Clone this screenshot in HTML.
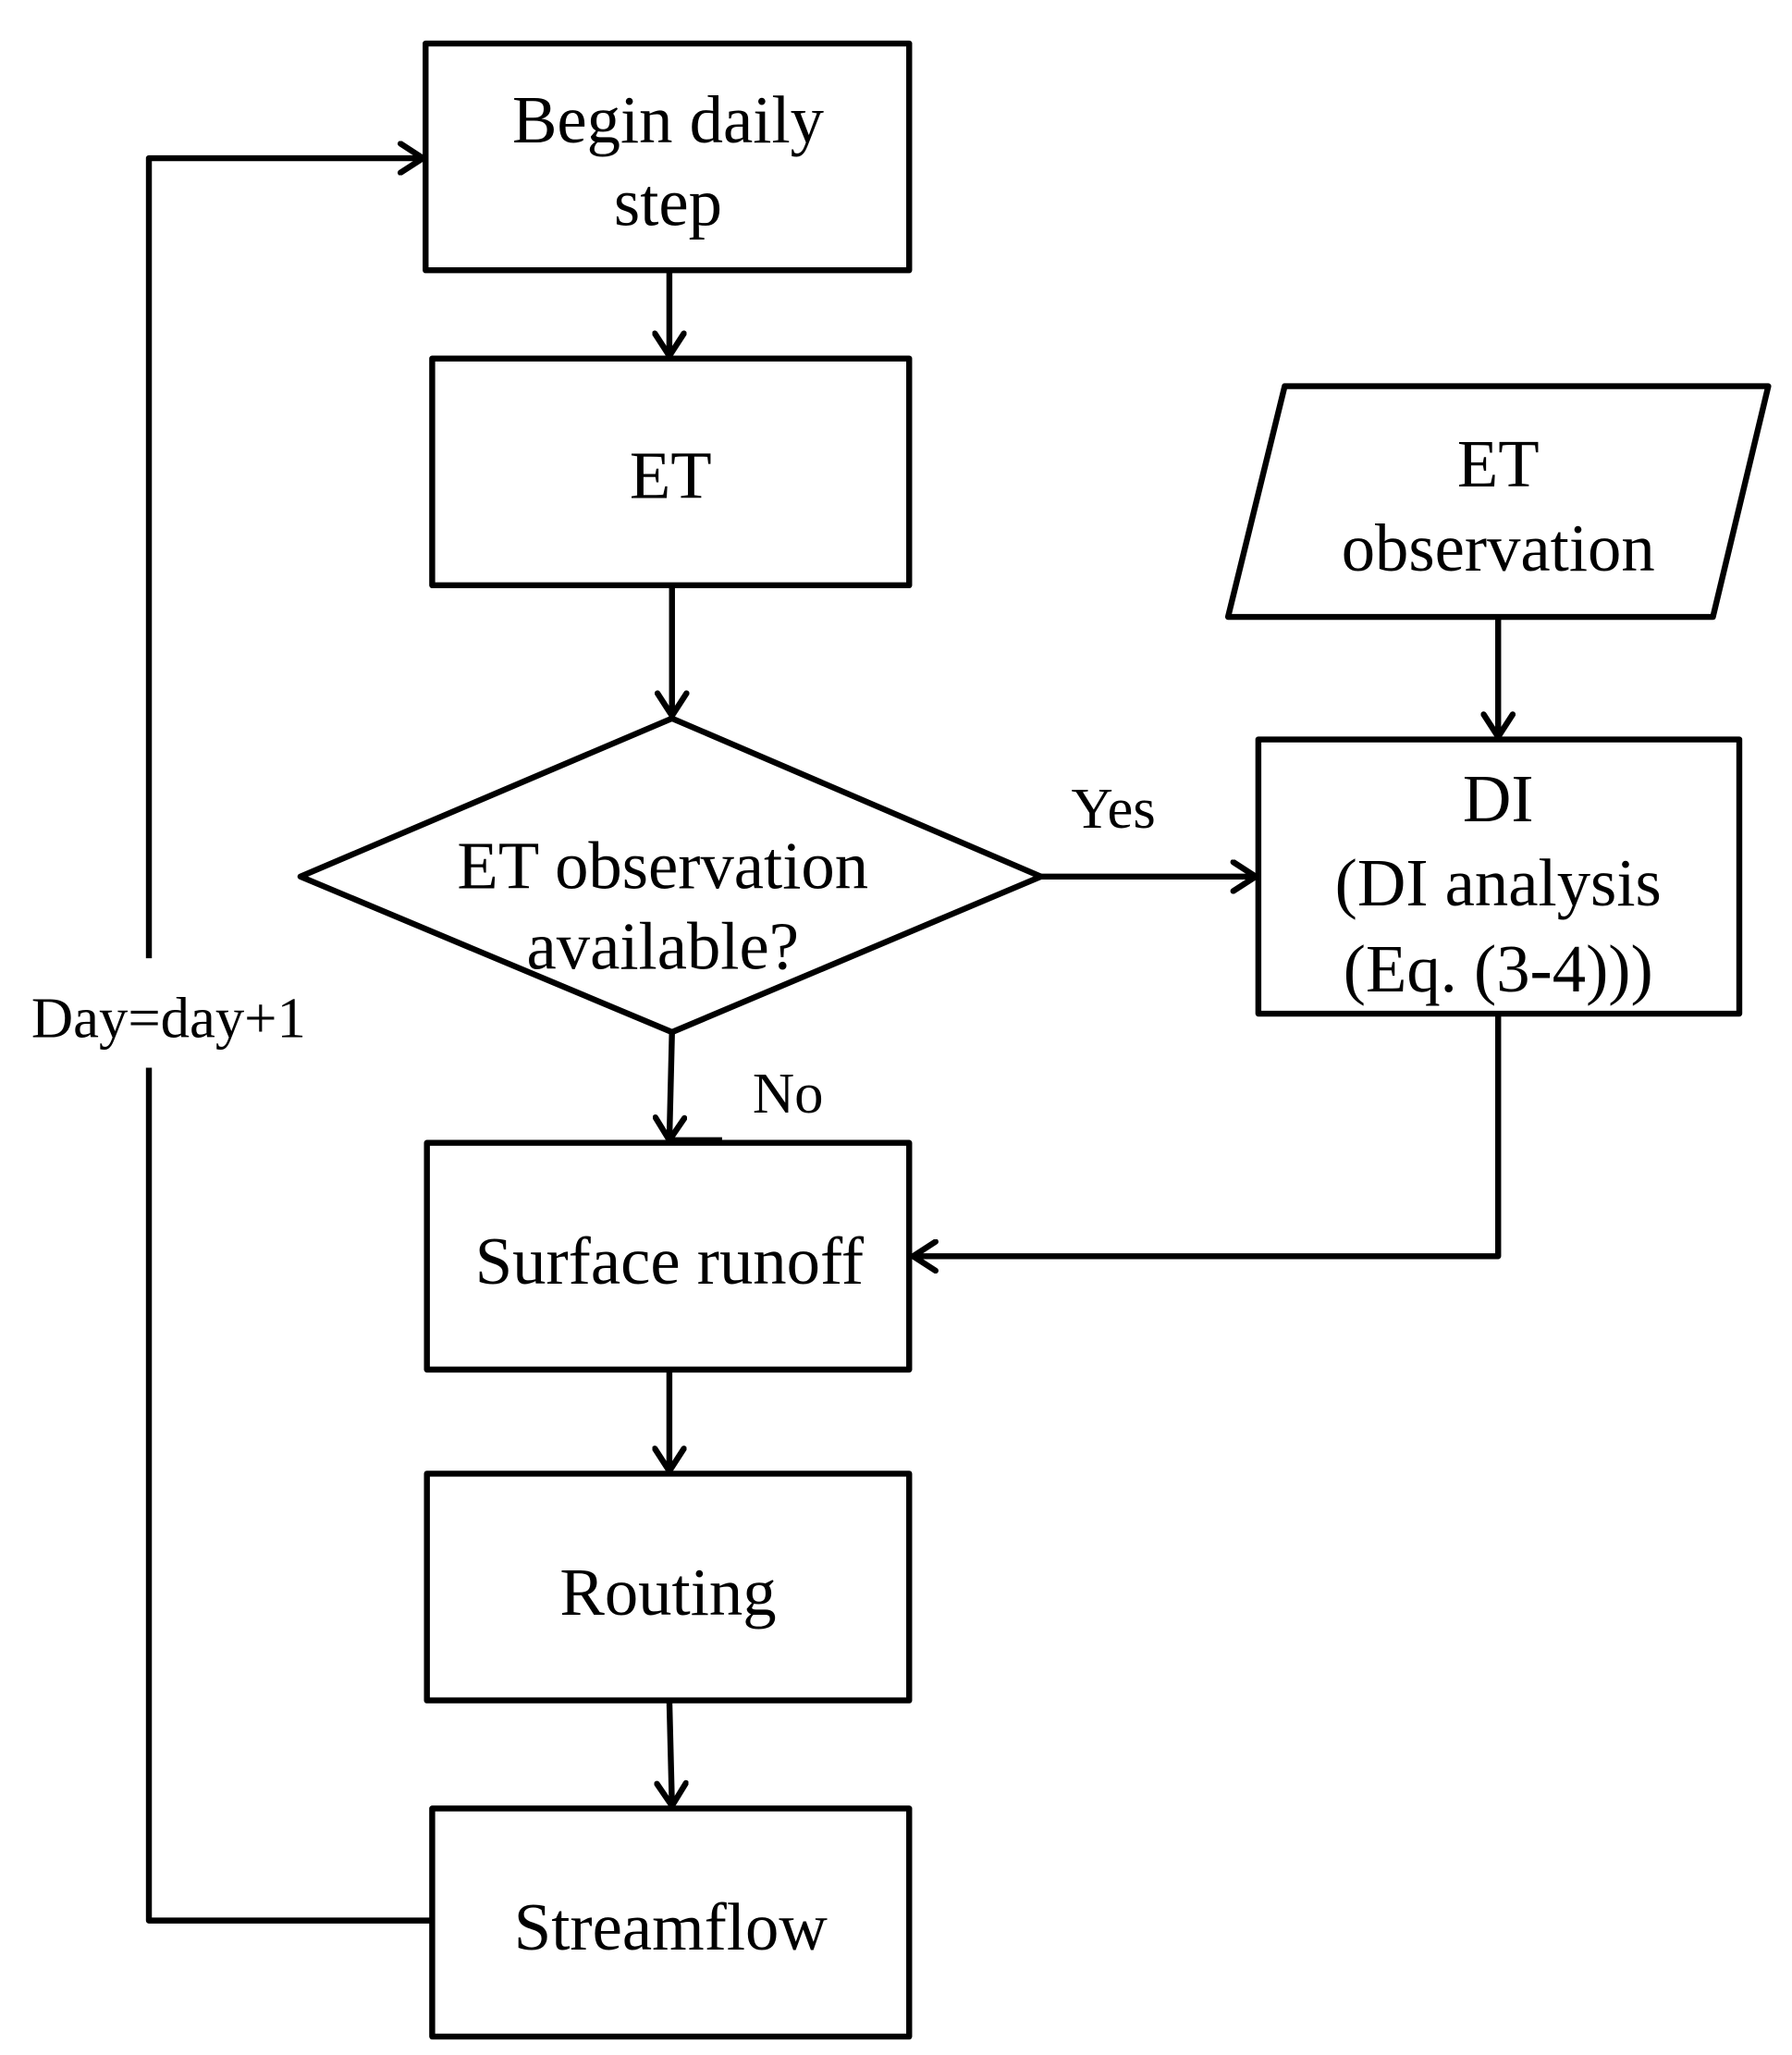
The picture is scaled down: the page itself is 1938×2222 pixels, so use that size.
<!DOCTYPE html>
<html><head><meta charset="utf-8"><style>html,body{margin:0;padding:0;background:#fff}svg{display:block}</style></head>
<body>
<svg width="1938" height="2222" viewBox="0 0 1360 1559" preserveAspectRatio="none" xmlns="http://www.w3.org/2000/svg">
<defs><marker id="a" markerWidth="24" markerHeight="26" refX="20" refY="13" orient="auto" markerUnits="userSpaceOnUse"><path d="M3,2 L20,13 L3,24" fill="none" stroke="#000" stroke-width="4.5" stroke-linecap="round" stroke-linejoin="round"/></marker></defs>
<g fill="none" stroke="#000" stroke-width="4.5" stroke-linejoin="round">
<rect x="323" y="33" width="367" height="172"/>
<rect x="328" y="272" width="362" height="172"/>
<polygon points="510,545 790,665 510,783 228,665"/>
<polygon points="975,293 1342,293 1300,468 932,468"/>
<rect x="955" y="561" width="365" height="208"/>
<rect x="324" y="867" width="366" height="172"/>
<rect x="324" y="1118" width="366" height="172"/>
<rect x="328" y="1372" width="362" height="173"/>
<line x1="508" y1="205" x2="508" y2="270" marker-end="url(#a)"/>
<line x1="510" y1="444" x2="510" y2="543" marker-end="url(#a)"/>
<line x1="510" y1="783" x2="508" y2="865" marker-end="url(#a)"/>
<line x1="508" y1="865" x2="548" y2="865"/>
<line x1="790" y1="665" x2="953" y2="665" marker-end="url(#a)"/>
<line x1="1137" y1="468" x2="1137" y2="559" marker-end="url(#a)"/>
<polyline points="1137,769 1137,953 693,953" marker-end="url(#a)"/>
<line x1="508" y1="1039" x2="508" y2="1116" marker-end="url(#a)"/>
<line x1="508" y1="1290" x2="510" y2="1370" marker-end="url(#a)"/>
<polyline points="328,1457 113,1457 113,810"/>
<polyline points="113,727 113,120 321,120" marker-end="url(#a)"/>
</g>
<g font-family="Liberation Serif, serif" font-size="51" text-anchor="middle" fill="#000">
<text x="507" y="108">Begin daily</text>
<text x="507" y="171">step</text>
<text x="509" y="378">ET</text>
<text x="503" y="674">ET observation</text>
<text x="503" y="735">available?</text>
<text x="1137" y="369">ET</text>
<text x="1137" y="433">observation</text>
<text x="1137" y="623">DI</text>
<text x="1137" y="687">(DI analysis</text>
<text x="1137" y="752">(Eq. (3-4)))</text>
<text x="508" y="974">Surface runoff</text>
<text x="507" y="1225">Routing</text>
<text x="509" y="1479">Streamflow</text>
<text x="845" y="628" font-size="44">Yes</text>
<text x="598" y="844" font-size="44">No</text>
<text x="128" y="787" font-size="44">Day=day+1</text>
</g>
</svg>
</body></html>
